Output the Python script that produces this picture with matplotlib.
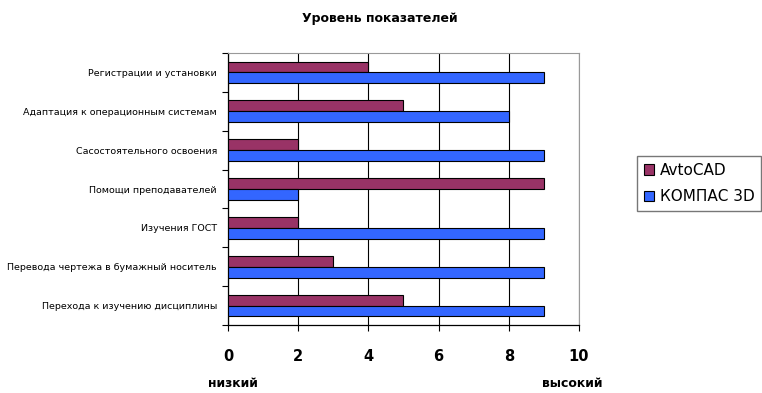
import numpy as np
import matplotlib.pyplot as plt

# --- Daten ---
categories = [
    'Регистрации и установки',
    'Адаптация к операционным системам',
    'Сасостоятельного освоения',
    'Помощи преподавателей',
    'Изучения ГОСТ',
    'Перевода чертежа в бумажный носитель',
    'Перехода к изучению дисциплины',
]
avtocad = [4, 5, 2, 9, 2, 3, 5]
kompas = [9, 8, 9, 2, 9, 9, 9]
x_ticks = [0, 2, 4, 6, 8, 10]

plt.rcParams['font.family'] = ['DejaVu Sans']

fig = plt.figure(figsize=(7.62, 3.93), dpi=100)
ax = fig.add_axes([0.2992, 0.173, 0.4606, 0.692])

y = np.arange(len(categories))
h = 0.28
ax.barh(y - h / 2, avtocad, height=h, color='#993366', edgecolor='black',
        linewidth=0.8, label='AvtoCAD', zorder=3)
ax.barh(y + h / 2, kompas, height=h, color='#3366FF', edgecolor='black',
        linewidth=0.8, label='КОМПАС 3D', zorder=3)

ax.set_xlim(0, 10)
ax.set_ylim(len(categories) - 0.5, -0.5)
ax.set_xticks(x_ticks)
ax.set_xticklabels([str(v) for v in x_ticks], fontsize=10.5, fontweight='bold')
ax.tick_params(axis='x', length=4, width=0.8, pad=13)

# Kategorie-Labels ohne Ticks, Ticks zwischen den Kategorien
ax.set_yticks(y)
ax.set_yticklabels(categories, fontsize=6.8)
ax.tick_params(axis='y', length=0, pad=8)
ax.set_yticks(np.arange(len(categories) + 1) - 0.5, minor=True)
ax.tick_params(axis='y', which='minor', length=4, width=0.8)

ax.grid(axis='x', color='black', linewidth=0.8, zorder=0)
for s in ['top', 'right']:
    ax.spines[s].set_color('#999999')
ax.spines['left'].set_linewidth(0.9)
ax.spines['bottom'].set_linewidth(0.9)

fig.text(0.499, 0.952, 'Уровень показателей', ha='center', va='center',
         fontsize=9, fontweight='bold')
fig.text(0.306, 0.023, 'низкий', ha='center', va='center',
         fontsize=9, fontweight='bold')
fig.text(0.751, 0.023, 'высокий', ha='center', va='center',
         fontsize=9, fontweight='bold')

leg = ax.legend(loc='upper left', bbox_to_anchor=(1.165, 0.621), fontsize=11,
                frameon=True, fancybox=False, edgecolor='#555555',
                borderaxespad=0, handlelength=0.7, handleheight=0.7,
                handletextpad=0.35, borderpad=0.45, labelspacing=0.75)
leg.get_frame().set_linewidth(1.0)

plt.savefig('out.png', dpi=100)
